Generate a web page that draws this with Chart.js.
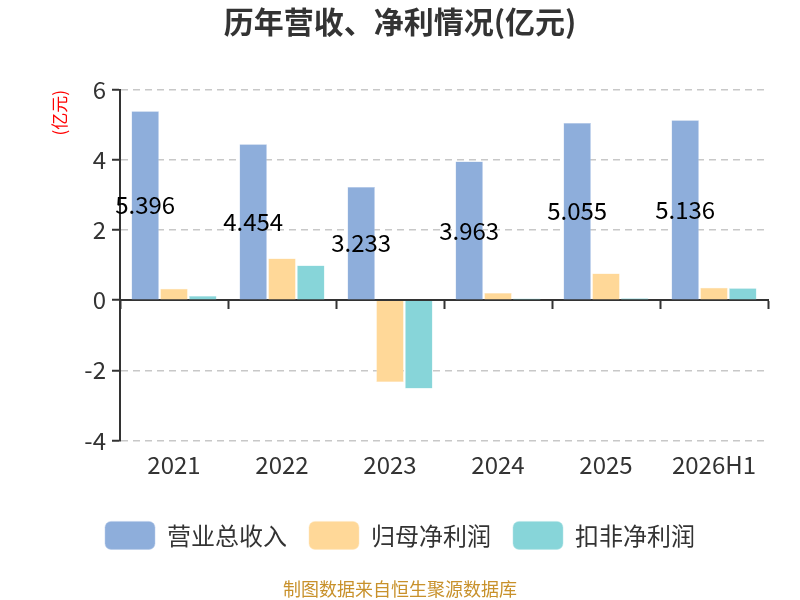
<!DOCTYPE html>
<html>
<head>
<meta charset="utf-8">
<script src="https://cdn.jsdelivr.net/npm/chart.js@4/dist/chart.umd.min.js"></script>
<style>
  html, body { margin: 0; padding: 0; background: #fff; }
  #box { width: 800px; height: 600px; }
</style>
</head>
<body>
<div id="box"><canvas id="grafico" width="800" height="600"></canvas></div>
<script>
// dados (亿元)
var anos = ['2021', '2022', '2023', '2024', '2025', '2026H1'];
var receita = [5.396, 4.454, 3.233, 3.963, 5.055, 5.136];
var lucroLiquido = [0.33, 1.19, -2.33, 0.21, 0.76, 0.36];
var lucroRecorrente = [0.12, 0.99, -2.52, 0.05, 0.06, 0.34];
var ticksY = [-4, -2, 0, 2, 4, 6];

var fonte = "'Noto Sans CJK SC', 'Open Sans', sans-serif";

// escreve o valor da receita no meio da barra azul
const rotuloReceita = {
    id: 'rotuloReceita',
    afterDatasetsDraw(chart) {
        var ctx = chart.ctx;
        var meta = chart.getDatasetMeta(0);
        ctx.save();
        ctx.font = '24px ' + fonte;
        ctx.fillStyle = '#000';
        ctx.textAlign = 'center';
        ctx.textBaseline = 'middle';
        meta.data.forEach(function (barra, i) {
            var meio = (barra.y + barra.base) / 2;
            ctx.fillText(receita[i].toFixed(3), barra.x, meio);
        });
        ctx.restore();
    }
};

const config = {
    type: 'bar',
    data: {
        labels: anos,
        datasets: [{
            label: '营业总收入',
            data: receita,
            backgroundColor: '#8eaedb',
            borderColor: '#b4c9e8',
            borderWidth: 0.5,
            xAxisID: 'x'
        }, {
            label: '归母净利润',
            data: lucroLiquido,
            backgroundColor: '#ffd898',
            borderColor: '#ffe6bd',
            borderWidth: 0.5,
            xAxisID: 'x'
        }, {
            label: '扣非净利润',
            data: lucroRecorrente,
            backgroundColor: '#87d5d9',
            borderColor: '#b3e5e7',
            borderWidth: 0.5,
            xAxisID: 'x'
        }]
    },
    options: {
        responsive: false,
        animation: false,
        devicePixelRatio: 1,
        layout: { padding: 0 },
        datasets: {
            bar: { categoryPercentage: 0.8, barPercentage: 0.95 }
        },
        plugins: {
            title: {
                display: true,
                text: '历年营收、净利情况(亿元)',
                color: '#333',
                font: { family: fonte, size: 30, weight: 'bold' },
                padding: { top: 4, bottom: 50 }
            },
            subtitle: {
                display: true,
                position: 'bottom',
                text: '制图数据来自恒生聚源数据库',
                color: '#c8912b',
                font: { family: fonte, size: 18 },
                padding: { top: 19, bottom: 0 }
            },
            legend: {
                position: 'bottom',
                labels: {
                    color: '#333',
                    font: { family: fonte, size: 24 },
                    boxWidth: 50,
                    boxHeight: 28,
                    useBorderRadius: true,
                    borderRadius: 6,
                    padding: 22
                }
            },
            tooltip: { enabled: false }
        },
        scales: {
            x: {
                position: 'bottom',
                grid: { display: false, drawTicks: false },
                border: { display: false },
                ticks: {
                    color: '#333',
                    font: { family: fonte, size: 24 },
                    padding: 10,
                    maxRotation: 0
                },
                afterFit: function (s) { s.height = 59; }
            },
            x0: {
                type: 'category',
                labels: anos,
                position: { y: 0 },
                offset: true,
                grid: {
                    offset: true,
                    drawOnChartArea: false,
                    drawTicks: true,
                    tickLength: 8,
                    tickColor: '#333',
                    tickWidth: 2
                },
                border: { color: '#333', width: 2 },
                ticks: { display: false }
            },
            y: {
                min: -4,
                max: 6,
                afterBuildTicks: function (s) {
                    s.ticks = ticksY.map(function (v) { return { value: v }; });
                },
                ticks: {
                    color: '#333',
                    font: { family: fonte, size: 24 },
                    padding: 6
                },
                grid: {
                    color: '#c8c8c8',
                    lineWidth: 1.5,
                    drawTicks: true,
                    tickLength: 8,
                    tickColor: '#333',
                    tickWidth: 2,
                    tickBorderDash: []
                },
                border: { color: '#333', width: 2, dash: [7, 5] },
                title: {
                    display: true,
                    text: '(亿元)',
                    color: '#ff0000',
                    align: 'end',
                    font: { family: fonte, size: 17 },
                    padding: { top: 49, bottom: 0 }
                },
                afterFit: function (s) { s.width = 120; }
            },
            // eixo vazio só pra reservar a margem da direita
            yDir: {
                type: 'linear',
                position: 'right',
                grid: { display: false, drawTicks: false },
                border: { display: false },
                ticks: { display: false },
                afterFit: function (s) { s.width = 32; }
            }
        }
    },
    plugins: [rotuloReceita]
};

const grafico = new Chart(document.getElementById('grafico'), config);
</script>
</body>
</html>
